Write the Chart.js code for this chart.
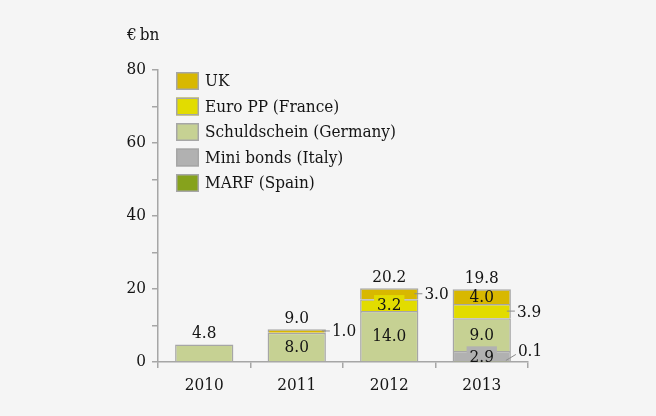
<!DOCTYPE html>
<html>
<head>
<meta charset="utf-8">
<script src="https://cdn.jsdelivr.net/npm/chart.js@4.4.1/dist/chart.umd.min.js"></script>
<style>
  html, body { margin: 0; padding: 0; background: #f5f5f5; }
  #wrap { width: 656px; height: 416px; }
</style>
</head>
<body>
<div id="wrap"><canvas id="c" width="656" height="416"></canvas></div>
<script>
// ---- data ----
const years = ['2010', '2011', '2012', '2013'];
const marf = [null, null, null, 0.1];
const miniBonds = [null, null, null, 2.9];
const schuldschein = [4.8, 8.0, 14.0, 9.0];
const euroPP = [null, null, 3.2, 3.9];
const uk = [null, 1.0, 3.0, 4.0];
const totals = [4.8, 9.0, 20.2, 19.8];
const yTicks = [0, 20, 40, 60, 80];
const unitLabel = '€\u2009bn';

// label placement kind per dataset & category (style, not data)
const labelKinds = {
  'MARF (Spain)':           [null, null, null, 'diag'],
  'Mini bonds (Italy)':     [null, null, null, 'inbox'],
  'Schuldschein (Germany)': [null, 'in', 'in', 'in'],
  'Euro PP (France)':       [null, null, 'inbox', 'right'],
  'UK':                     [null, 'right', 'right', 'in']
};

const FONT = '"DejaVu Serif Condensed", "DejaVu Serif", serif';
const FS = 17;
const TXT = '#141414';
const AXIS = '#a6a6a6';

const datasets = [
  { label: 'MARF (Spain)', data: marf, backgroundColor: '#86a21c' },
  { label: 'Mini bonds (Italy)', data: miniBonds, backgroundColor: '#b1b1b1' },
  { label: 'Schuldschein (Germany)', data: schuldschein, backgroundColor: '#c6d193' },
  { label: 'Euro PP (France)', data: euroPP, backgroundColor: '#e2dc00' },
  { label: 'UK', data: uk, backgroundColor: '#d8b800' }
].map(d => Object.assign(d, {
  borderColor: AXIS, borderWidth: 1.5,
  categoryPercentage: 1.0, barPercentage: 0.63
}));

const bgPlugin = {
  id: 'bg',
  beforeDraw(chart) {
    const ctx = chart.ctx;
    ctx.save();
    ctx.fillStyle = '#f5f5f5';
    ctx.fillRect(0, 0, chart.width, chart.height);
    ctx.restore();
  }
};

const labelPlugin = {
  id: 'labels',
  afterDatasetsDraw(chart) {
    const ctx = chart.ctx;
    const xs = chart.scales.x, ys = chart.scales.y;
    ctx.save();
    ctx.font = FS + 'px ' + FONT;
    ctx.fillStyle = TXT;
    ctx.textBaseline = 'middle';

    // unit label
    ctx.textAlign = 'left';
    ctx.fillText(unitLabel, chart.chartArea.left - 31, 36);

    chart.data.datasets.forEach((ds, di) => {
      const meta = chart.getDatasetMeta(di);
      const kinds = labelKinds[ds.label];
      meta.data.forEach((bar, i) => {
        const kind = kinds[i];
        const v = ds.data[i];
        if (!kind || v == null) return;
        const p = bar.getProps(['x', 'y', 'base', 'width'], true);
        const cy = (p.y + p.base) / 2;
        const right = p.x + p.width / 2;
        const txt = v.toFixed(1);
        ctx.fillStyle = TXT;
        if (kind === 'in') {
          ctx.textAlign = 'center';
          ctx.fillText(txt, p.x, cy + 1);
        } else if (kind === 'inbox') {
          const w = ctx.measureText(txt).width + 6;
          const top = cy - 10;
          const bottom = Math.min(cy + 10, p.base - 0.75);
          ctx.fillStyle = ds.backgroundColor;
          ctx.fillRect(p.x - w / 2, top, w, bottom - top);
          ctx.fillStyle = TXT;
          ctx.textAlign = 'center';
          ctx.fillText(txt, p.x, cy + 1);
        } else if (kind === 'right') {
          ctx.strokeStyle = '#8c8c8c';
          ctx.lineWidth = 1;
          ctx.beginPath();
          ctx.moveTo(right - 4, cy);
          ctx.lineTo(right + 4, cy);
          ctx.stroke();
          ctx.textAlign = 'left';
          ctx.fillText(txt, right + 6, cy + 1);
        } else if (kind === 'diag') {
          ctx.strokeStyle = '#8c8c8c';
          ctx.lineWidth = 1;
          ctx.beginPath();
          ctx.moveTo(right - 5, cy - 1);
          ctx.lineTo(right + 5, cy - 7);
          ctx.stroke();
          ctx.textAlign = 'left';
          ctx.fillText(txt, right + 7, cy - 10);
        }
      });
    });

    // totals above stacks
    ctx.fillStyle = TXT;
    ctx.textAlign = 'center';
    totals.forEach((t, i) => {
      let sum = 0;
      chart.data.datasets.forEach(ds => { sum += ds.data[i] || 0; });
      const x = xs.getPixelForValue(i);
      const y = ys.getPixelForValue(sum);
      ctx.fillText(t.toFixed(1), x, y - 11);
    });

    // legend (reverse of stack order)
    const lx = chart.chartArea.left + 18;
    let ly = chart.chartArea.top + 2;
    const items = chart.data.datasets.slice().reverse();
    items.forEach(ds => {
      ctx.fillStyle = ds.backgroundColor;
      ctx.fillRect(lx, ly, 23, 18);
      ctx.strokeStyle = AXIS;
      ctx.lineWidth = 1.5;
      ctx.strokeRect(lx + 0.75, ly + 0.75, 21.5, 16.5);
      ctx.fillStyle = TXT;
      ctx.textAlign = 'left';
      ctx.fillText(ds.label, lx + 29, ly + 10);
      ly += 25.5;
    });
    ctx.restore();
  }
};

new Chart(document.getElementById('c'), {
  type: 'bar',
  data: { labels: years, datasets: datasets },
  options: {
    responsive: false,
    animation: false,
    devicePixelRatio: 1,
    layout: { padding: { top: 70, right: 128, bottom: 0, left: 0 } },
    plugins: { legend: { display: false }, tooltip: { enabled: false } },
    scales: {
      x: {
        stacked: true,
        afterFit(s) { s.height = 54; },
        grid: { offset: true, drawOnChartArea: false, drawTicks: true, tickLength: 6, color: AXIS, lineWidth: 1.5 },
        border: { color: AXIS, width: 1.5 },
        ticks: { font: { family: FONT, size: FS }, color: TXT, padding: 7 }
      },
      y: {
        stacked: true,
        min: 0, max: 80,
        afterFit(s) { s.width = 158; },
        grid: { drawOnChartArea: false, drawTicks: true, tickLength: 6, color: AXIS, lineWidth: 1.5 },
        border: { color: AXIS, width: 1.5 },
        ticks: {
          stepSize: 10,
          padding: 6,
          font: { family: FONT, size: FS }, color: TXT,
          callback: v => yTicks.includes(v) ? String(v) : ''
        }
      }
    }
  },
  plugins: [bgPlugin, labelPlugin]
});
</script>
</body>
</html>
